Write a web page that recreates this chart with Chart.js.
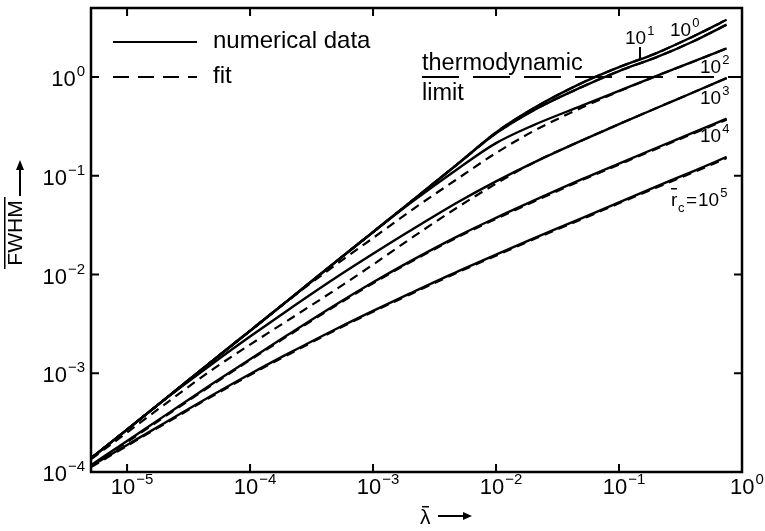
<!DOCTYPE html>
<html lang="en">
<head>
  <meta charset="UTF-8" />
  <title>FWHM vs lambda</title>
  <script src="https://cdn.jsdelivr.net/npm/chart.js@4.4.0/dist/chart.umd.min.js"></script>
  <style>
    body { margin: 0; background: #fff; }
    canvas { display: block; }
  </style>
</head>
<body>
  <canvas id="c" width="765" height="531"></canvas>
  <script>
    // lambda grid shared by all curves
    const lam = [5.1e-6, 1e-5, 2e-5, 5e-5, 1e-4, 2e-4, 5e-4, 1e-3, 2e-3, 5e-3, 1e-2, 2e-2, 5e-2, 0.1, 0.2, 0.4, 0.75];

    // numerical data (solid)
    const num_r1   = [1.38e-4, 2.69e-4, 5.37e-4, 1.35e-3, 2.69e-3, 5.37e-3, 1.35e-2, 2.69e-2, 5.37e-2, 0.135, 0.275, 0.479, 0.871, 1.26, 1.74, 2.57, 3.80];
    const num_r10  = [1.38e-4, 2.69e-4, 5.37e-4, 1.35e-3, 2.69e-3, 5.37e-3, 1.35e-2, 2.69e-2, 5.37e-2, 0.135, 0.269, 0.457, 0.794, 1.15, 1.58, 2.29, 3.39];
    const num_r1e2 = [1.38e-4, 2.69e-4, 5.37e-4, 1.35e-3, 2.69e-3, 5.37e-3, 1.35e-2, 2.69e-2, 5.25e-2, 0.120, 0.214, 0.324, 0.513, 0.724, 1.02, 1.43, 1.95];
    const num_r1e3 = [1.38e-4, 2.69e-4, 5.37e-4, 1.265e-3, 2.355e-3, 4.30e-3, 9.31e-3, 1.62e-2, 2.77e-2, 5.48e-2, 8.77e-2, 0.135, 0.228, 0.333, 0.483, 0.697, 0.975];
    const num_r1e4 = [1.175e-4, 2.06e-4, 3.68e-4, 7.91e-4, 1.39e-3, 2.42e-3, 4.97e-3, 8.34e-3, 1.36e-2, 2.48e-2, 3.75e-2, 5.56e-2, 9.23e-2, 0.133, 0.191, 0.273, 0.379];
    const num_r1e5 = [1.148e-4, 1.88e-4, 3.12e-4, 6.05e-4, 9.82e-4, 1.56e-3, 2.81e-3, 4.29e-3, 6.44e-3, 1.089e-2, 1.59e-2, 2.31e-2, 3.73e-2, 5.38e-2, 7.76e-2, 0.111, 0.155];

    // fit (dashed)
    const fit_r1   = [1.38e-4, 2.69e-4, 5.37e-4, 1.35e-3, 2.69e-3, 5.37e-3, 1.35e-2, 2.69e-2, 5.37e-2, 0.135, 0.275, 0.479, 0.871, 1.26, 1.74, 2.57, 3.80];
    const fit_r10  = [1.38e-4, 2.69e-4, 5.37e-4, 1.35e-3, 2.69e-3, 5.37e-3, 1.35e-2, 2.69e-2, 5.37e-2, 0.135, 0.269, 0.457, 0.794, 1.15, 1.58, 2.29, 3.39];
    const fit_r1e2 = [1.38e-4, 2.69e-4, 5.37e-4, 1.35e-3, 2.69e-3, 5.37e-3, 1.26e-2, 2.34e-2, 4.37e-2, 9.55e-2, 0.170, 0.282, 0.490, 0.716, 1.02, 1.43, 1.95];
    const fit_r1e3 = [1.35e-4, 2.51e-4, 4.79e-4, 1.10e-3, 1.95e-3, 3.39e-3, 7.08e-3, 1.26e-2, 2.29e-2, 4.90e-2, 8.32e-2, 0.135, 0.228, 0.333, 0.483, 0.697, 0.975];
    const fit_r1e4 = [1.15e-4, 2.01e-4, 3.60e-4, 7.73e-4, 1.36e-3, 2.36e-3, 4.86e-3, 8.15e-3, 1.33e-2, 2.42e-2, 3.66e-2, 5.43e-2, 9.02e-2, 0.130, 0.187, 0.267, 0.370];
    const fit_r1e5 = [1.12e-4, 1.84e-4, 3.05e-4, 5.91e-4, 9.60e-4, 1.52e-3, 2.75e-3, 4.19e-3, 6.29e-3, 1.064e-2, 1.55e-2, 2.26e-2, 3.64e-2, 5.26e-2, 7.58e-2, 0.108, 0.151];

    // thermodynamic limit
    const thermoX = [2.5e-3, 1.0];
    const thermoY = [1, 1];

    const xPowers = [-5, -4, -3, -2, -1, 0];
    const yPowers = [-4, -3, -2, -1, 0];

    const FONT = '"Liberation Sans", Arial, sans-serif';

    function pts(xs, ys) {
      return xs.map((v, i) => ({ x: v, y: ys[i] }));
    }

    function line(xs, ys, dashed) {
      return {
        data: pts(xs, ys),
        showLine: true,
        borderColor: '#000',
        borderWidth: dashed ? 2.2 : 2.4,
        borderDash: dashed ? [9, 6] : [],
        pointRadius: 0,
        cubicInterpolationMode: 'monotone',
        fill: false
      };
    }

    // draws "10" with a raised exponent
    function pow10(ctx, exp, x, y, align, size) {
      let small = Math.round(size * 0.68);
      ctx.font = size + 'px ' + FONT;
      let wb = ctx.measureText('10').width;
      ctx.font = small + 'px ' + FONT;
      let we = ctx.measureText(exp).width;
      let total = wb + we + 1;
      let x0 = align === 'center' ? x - total / 2 : align === 'right' ? x - total : x;
      ctx.textAlign = 'left';
      ctx.textBaseline = 'alphabetic';
      ctx.font = size + 'px ' + FONT;
      ctx.fillText('10', x0, y);
      ctx.font = small + 'px ' + FONT;
      ctx.fillText(exp, x0 + wb + 1, y - size * 0.45);
    }

    function expText(k) {
      return k < 0 ? '\u2212' + (-k) : String(k);
    }

    const overlay = {
      id: 'overlay',
      afterDatasetsDraw(chart) {
        const ctx = chart.ctx;
        const a = chart.chartArea;
        const xs = chart.scales.x, ys = chart.scales.y;
        ctx.save();
        ctx.strokeStyle = '#000';
        ctx.fillStyle = '#000';

        // frame
        ctx.lineWidth = 2.5;
        ctx.strokeRect(a.left, a.top, a.right - a.left, a.bottom - a.top);

        // inward ticks
        ctx.lineWidth = 2;
        const tl = 8;
        ctx.beginPath();
        xPowers.forEach(k => {
          let px = xs.getPixelForValue(Math.pow(10, k));
          ctx.moveTo(px, a.bottom); ctx.lineTo(px, a.bottom - tl);
          ctx.moveTo(px, a.top); ctx.lineTo(px, a.top + tl);
        });
        yPowers.forEach(k => {
          let py = ys.getPixelForValue(Math.pow(10, k));
          ctx.moveTo(a.left, py); ctx.lineTo(a.left + tl, py);
          ctx.moveTo(a.right, py); ctx.lineTo(a.right - tl, py);
        });
        ctx.stroke();

        // tick labels
        xPowers.forEach(k => {
          let px = xs.getPixelForValue(Math.pow(10, k));
          pow10(ctx, expText(k), px + 5, a.bottom + 22, 'center', 22);
        });
        yPowers.forEach(k => {
          let py = ys.getPixelForValue(Math.pow(10, k));
          pow10(ctx, expText(k), a.left - 6, py + 9, 'right', 22);
        });

        // legend
        ctx.lineWidth = 2;
        ctx.beginPath();
        ctx.setLineDash([]);
        ctx.moveTo(113, 42); ctx.lineTo(197, 42);
        ctx.stroke();
        ctx.beginPath();
        ctx.setLineDash([16, 9]);
        ctx.moveTo(113, 77); ctx.lineTo(197, 77);
        ctx.stroke();
        ctx.setLineDash([]);
        ctx.font = '24px ' + FONT;
        ctx.textAlign = 'left';
        ctx.fillText('numerical data', 213, 48);
        ctx.fillText('fit', 213, 83);

        // thermodynamic limit text
        ctx.font = '23.5px ' + FONT;
        ctx.fillText('thermodynamic', 422, 70);
        ctx.fillText('limit', 422, 100);

        // curve labels
        pow10(ctx, '1', 625, 44, 'left', 19);
        pow10(ctx, '0', 670, 36, 'left', 19);
        ctx.beginPath();
        ctx.moveTo(640, 47); ctx.lineTo(640, 59);
        ctx.stroke();
        pow10(ctx, '2', 700, 73, 'left', 19);
        pow10(ctx, '3', 700, 104, 'left', 19);
        pow10(ctx, '4', 700, 142, 'left', 19);

        // r_c = 10^5
        ctx.font = '19px ' + FONT;
        ctx.fillText('r', 671, 206);
        ctx.fillRect(671, 188, 6, 1.5);
        ctx.font = '13px ' + FONT;
        ctx.fillText('c', 678, 212);
        ctx.font = '19px ' + FONT;
        ctx.fillText('=', 686, 206);
        pow10(ctx, '5', 698, 206, 'left', 19);

        // x axis label: lambda-bar with arrow
        ctx.font = '21px ' + FONT;
        ctx.fillText('\u03bb', 420, 524);
        ctx.fillRect(422, 506, 7, 1.5);
        ctx.beginPath();
        ctx.moveTo(438, 516); ctx.lineTo(470, 516);
        ctx.stroke();
        ctx.beginPath();
        ctx.moveTo(472, 516); ctx.lineTo(463, 512); ctx.lineTo(463, 520); ctx.closePath();
        ctx.fill();

        // y axis label: FWHM with overline and arrow
        ctx.save();
        ctx.translate(22, 233);
        ctx.rotate(-Math.PI / 2);
        ctx.font = '21px ' + FONT;
        ctx.textAlign = 'center';
        ctx.fillText('FWHM', 0, 0);
        ctx.fillRect(-36, -18, 72, 1.5);
        ctx.restore();
        ctx.beginPath();
        ctx.moveTo(20, 196); ctx.lineTo(20, 164);
        ctx.stroke();
        ctx.beginPath();
        ctx.moveTo(20, 160); ctx.lineTo(16, 170); ctx.lineTo(24, 170); ctx.closePath();
        ctx.fill();

        ctx.restore();
      }
    };

    const thermo = {
      data: pts(thermoX, thermoY),
      showLine: true,
      borderColor: '#000',
      borderWidth: 2,
      borderDash: [37, 14],
      pointRadius: 0,
      fill: false
    };

    new Chart(document.getElementById('c'), {
      type: 'scatter',
      data: {
        datasets: [
          thermo,
          line(lam, fit_r1, true), line(lam, fit_r10, true), line(lam, fit_r1e2, true),
          line(lam, fit_r1e3, true), line(lam, fit_r1e4, true), line(lam, fit_r1e5, true),
          line(lam, num_r1, false), line(lam, num_r10, false), line(lam, num_r1e2, false),
          line(lam, num_r1e3, false), line(lam, num_r1e4, false), line(lam, num_r1e5, false)
        ]
      },
      options: {
        responsive: false,
        animation: false,
        devicePixelRatio: 1,
        layout: { padding: { left: 91, top: 8, right: 23, bottom: 59 } },
        plugins: { legend: { display: false }, tooltip: { enabled: false } },
        scales: {
          x: { type: 'logarithmic', min: 5.09e-6, max: 1, display: false },
          y: { type: 'logarithmic', min: 1e-4, max: 5.0, display: false }
        }
      },
      plugins: [overlay]
    });
  </script>
</body>
</html>
